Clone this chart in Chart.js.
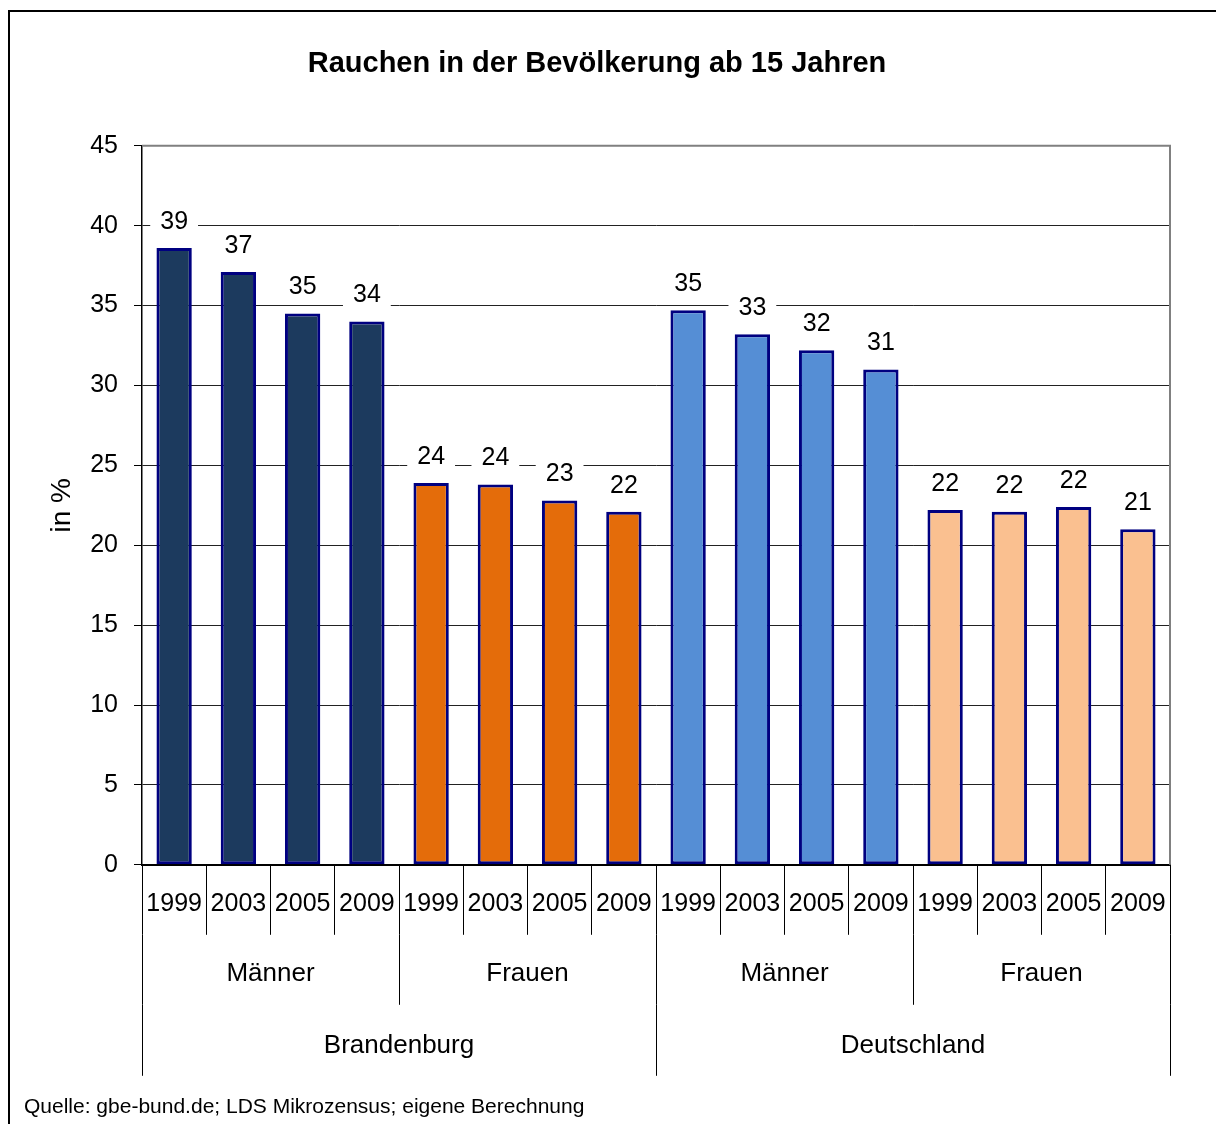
<!DOCTYPE html>
<html>
<head>
<meta charset="utf-8">
<script src="https://cdn.jsdelivr.net/npm/chart.js@4/dist/chart.umd.min.js"></script>
<style>
  html, body { margin: 0; padding: 0; background: #fff; overflow: hidden; }
  #frame { position: absolute; left: 8px; top: 10px; width: 2000px; height: 2000px; border: 2px solid #000; }
  #chart { position: absolute; left: 0; top: 0; }
</style>
</head>
<body>
<div id="frame"></div>
<canvas id="chart" width="1216" height="1124"></canvas>
<script>
var years = ['1999', '2003', '2005', '2009', '1999', '2003', '2005', '2009', '1999', '2003', '2005', '2009', '1999', '2003', '2005', '2009'];
var genders = ['Männer', 'Frauen', 'Männer', 'Frauen'];
var regions = ['Brandenburg', 'Deutschland'];
var values = [38.6, 37.1, 34.5, 34.0, 23.9, 23.8, 22.8, 22.1, 34.7, 33.2, 32.2, 31.0, 22.2, 22.1, 22.4, 21.0];
var yTicks = [0, 5, 10, 15, 20, 25, 30, 35, 40, 45];

var barColors = [
    '#1C3A5E', '#1C3A5E', '#1C3A5E', '#1C3A5E',
    '#E46C0A', '#E46C0A', '#E46C0A', '#E46C0A',
    '#558ED5', '#558ED5', '#558ED5', '#558ED5',
    '#FAC090', '#FAC090', '#FAC090', '#FAC090'
];

var font = 'Arial, "Liberation Sans", sans-serif';

// gray frame on top and right of plot area
var plotFrame = {
    id: 'plotFrame',
    beforeDatasetsDraw: function (chart) {
        var a = chart.chartArea;
        var c = chart.ctx;
        c.save();
        c.strokeStyle = '#808080';
        c.lineWidth = 2;
        c.beginPath();
        c.moveTo(a.left, a.top);
        c.lineTo(a.right, a.top);
        c.lineTo(a.right, a.bottom);
        c.stroke();
        c.restore();
    }
};

// value labels above bars, white box behind
var valueLabels = {
    id: 'valueLabels',
    afterDatasetsDraw: function (chart) {
        var c = chart.ctx;
        var meta = chart.getDatasetMeta(0);
        c.save();
        c.font = '25px ' + font;
        c.textAlign = 'center';
        c.textBaseline = 'middle';
        meta.data.forEach(function (bar, i) {
            var txt = String(Math.round(values[i]));
            var w = c.measureText(txt).width + 20;
            var y = bar.y - 26;
            c.fillStyle = '#fff';
            c.fillRect(bar.x - w / 2, y - 14, w, 28);
            c.fillStyle = '#000';
            c.fillText(txt, bar.x, y);
        });
        c.restore();
    }
};

var ctx = document.getElementById('chart').getContext('2d');

var myChart = new Chart(ctx, {
    type: 'bar',
    data: {
        labels: years,
        datasets: [{
            data: values,
            backgroundColor: barColors,
            borderColor: '#000080',
            borderWidth: 3,
            borderSkipped: false,
            categoryPercentage: 1,
            barPercentage: 0.55
        }]
    },
    options: {
        responsive: false,
        animation: false,
        events: [],
        layout: { padding: { left: 24, right: 46, top: 0, bottom: 0 } },
        plugins: {
            legend: { display: false },
            tooltip: { enabled: false },
            title: {
                display: true,
                text: 'Rauchen in der Bevölkerung ab 15 Jahren',
                color: '#000',
                font: { family: font, size: 29, weight: 'bold' },
                padding: { top: 47, bottom: 64 }
            },
            subtitle: {
                display: true,
                position: 'bottom',
                align: 'start',
                text: 'Quelle: gbe-bund.de; LDS Mikrozensus; eigene Berechnung',
                color: '#000',
                font: { family: font, size: 21 },
                padding: { top: 19, bottom: 4 }
            }
        },
        scales: {
            y: {
                min: 0,
                max: 45,
                afterBuildTicks: function (scale) {
                    scale.ticks = yTicks.map(function (v) { return { value: v }; });
                },
                afterFit: function (scale) { scale.width = 118; },
                ticks: { color: '#000', font: { family: font, size: 25 }, padding: 16 },
                grid: {
                    color: '#222',
                    lineWidth: 1,
                    borderDash: [1, 1],
                    tickLength: 8,
                    tickColor: '#000',
                    tickBorderDash: []
                },
                border: { color: '#000', width: 1.5 },
                title: {
                    display: true,
                    text: 'in %',
                    color: '#000',
                    font: { family: font, size: 28 },
                    padding: { top: 21, bottom: 0 }
                }
            },
            x: {
                weight: 0,
                offset: true,
                afterFit: function (scale) { scale.height = 70; },
                ticks: { color: '#000', font: { family: font, size: 25 }, padding: -46, autoSkip: false, maxRotation: 0, minRotation: 0 },
                grid: { offset: true, drawOnChartArea: false, tickLength: 70, color: '#000', lineWidth: 1 },
                border: { color: '#000', width: 2 }
            },
            x2: {
                type: 'category',
                position: 'bottom',
                weight: 1,
                labels: genders,
                offset: true,
                afterFit: function (scale) { scale.height = 70; },
                ticks: { color: '#000', font: { family: font, size: 26 }, padding: -47, autoSkip: false, maxRotation: 0, minRotation: 0 },
                grid: { offset: true, drawOnChartArea: false, tickLength: 70, color: '#000', lineWidth: 1 },
                border: { display: false }
            },
            x3: {
                type: 'category',
                position: 'bottom',
                weight: 2,
                labels: regions,
                offset: true,
                afterFit: function (scale) { scale.height = 71; },
                ticks: { color: '#000', font: { family: font, size: 26 }, padding: -46, autoSkip: false, maxRotation: 0, minRotation: 0 },
                grid: { offset: true, drawOnChartArea: false, tickLength: 71, color: '#000', lineWidth: 1 },
                border: { display: false }
            }
        }
    },
    plugins: [plotFrame, valueLabels]
});
</script>
</body>
</html>
